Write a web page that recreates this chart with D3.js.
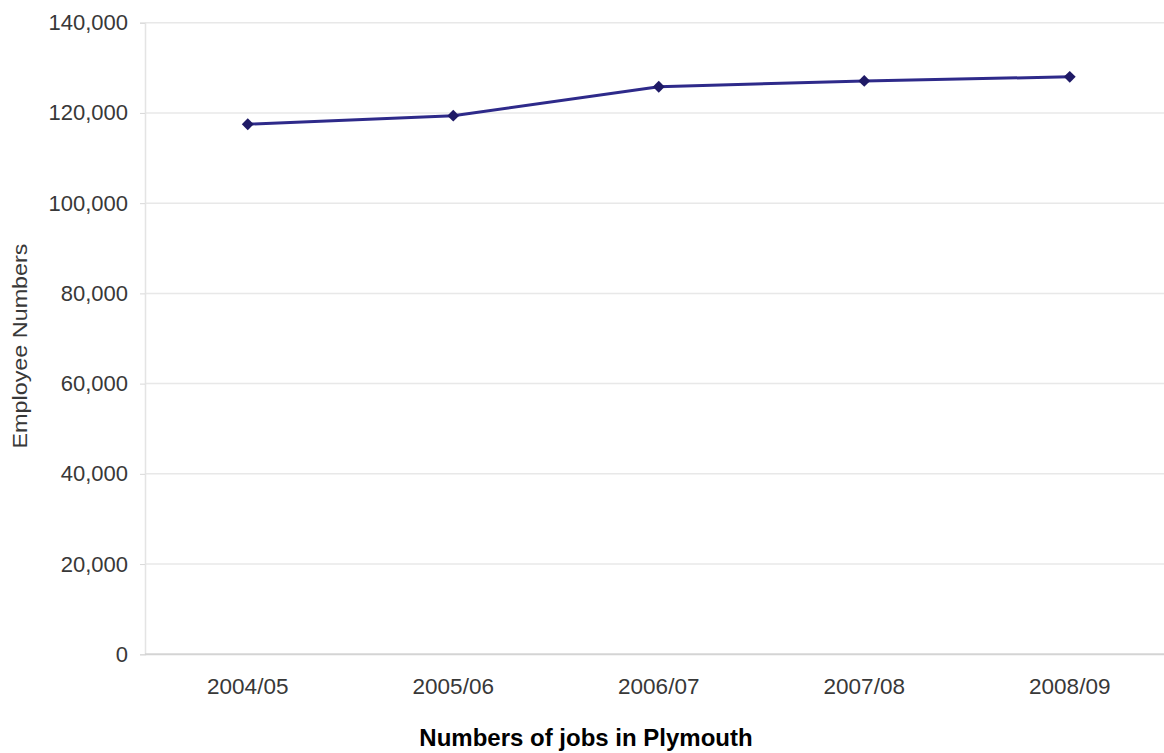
<!DOCTYPE html>
<html><head><meta charset="utf-8">
<script src="https://cdn.jsdelivr.net/npm/d3@7"></script>
<style>body{margin:0;background:#fff;}svg{display:block;font-family:Arial,"Liberation Sans",sans-serif;}</style>
</head><body>
<svg id="c" width="1164" height="753"></svg>
<script>
const categories = ["2004/05","2005/06","2006/07","2007/08","2008/09"];
const employees = [117500, 119400, 125800, 127100, 128000];
const yTicks = [0,20000,40000,60000,80000,100000,120000,140000];
const title = "Numbers of jobs in Plymouth";
const yTitle = "Employee Numbers";

(function(){
const svg = d3.select("#c");
const mLeft = 145, mRight = 1172.5, mTop = 22.7, mBottom = 654.3;
const x = d3.scaleBand().domain(categories).range([mLeft, mRight]).padding(0);
const y = d3.scaleLinear().domain([0,140000]).range([mBottom, mTop]);
const fmt = d3.format(",");

// gridlines
svg.append("g").selectAll("line").data(yTicks.filter(d=>d>0)).join("line")
  .attr("x1", mLeft).attr("x2", 1164).attr("y1", d=>y(d)).attr("y2", d=>y(d))
  .attr("stroke", "#e8e8e8").attr("stroke-width", 1.5);

// y axis
const ya = svg.append("g").attr("transform", `translate(${mLeft},0)`)
  .call(d3.axisLeft(y).tickValues(yTicks).tickFormat(fmt).tickSize(5).tickPadding(12));
ya.attr("font-family", null).attr("font-size", null);
ya.select(".domain").attr("stroke", "#e4e4e4").attr("stroke-width", 1.5);
ya.selectAll(".tick line").attr("stroke", "#d8d8d8");
ya.selectAll("text").style("font-size", "22px").attr("fill", "#383838");

// x axis
const xa = svg.append("g").attr("transform", `translate(0,${mBottom})`)
  .call(d3.axisBottom(x).tickSize(0).tickPadding(24));
xa.attr("font-family", null).attr("font-size", null);
xa.select(".domain").attr("stroke", "#d4d4d4").attr("stroke-width", 2).attr("d", `M${mLeft},0H1164`);
xa.selectAll("text").style("font-size", "22.5px").attr("fill", "#383838");

// line
const cx = d => x(d) + x.bandwidth()/2;
const pts = categories.map((c,i)=>[cx(c), y(employees[i])]);
svg.append("path").datum(pts)
  .attr("d", d3.line())
  .attr("fill", "none").attr("stroke", "#2e2a8a").attr("stroke-width", 3);
svg.append("g").selectAll("path").data(pts).join("path")
  .attr("transform", d=>`translate(${d[0]},${d[1]})`)
  .attr("d", d3.symbol().type(d3.symbolDiamond2).size(90))
  .attr("fill", "#1f1a66");

// titles
svg.append("text").attr("x", 586).attr("y", 746).attr("text-anchor","middle")
  .style("font-size", "24px").attr("font-weight","bold").attr("fill","#000").text(title);
svg.append("text").attr("transform","translate(27,346) rotate(-90)").attr("text-anchor","middle")
  .style("font-size", "20px").attr("textLength", 205).attr("lengthAdjust","spacingAndGlyphs")
  .attr("fill","#383838").text(yTitle);
})();
</script>
</body></html>
